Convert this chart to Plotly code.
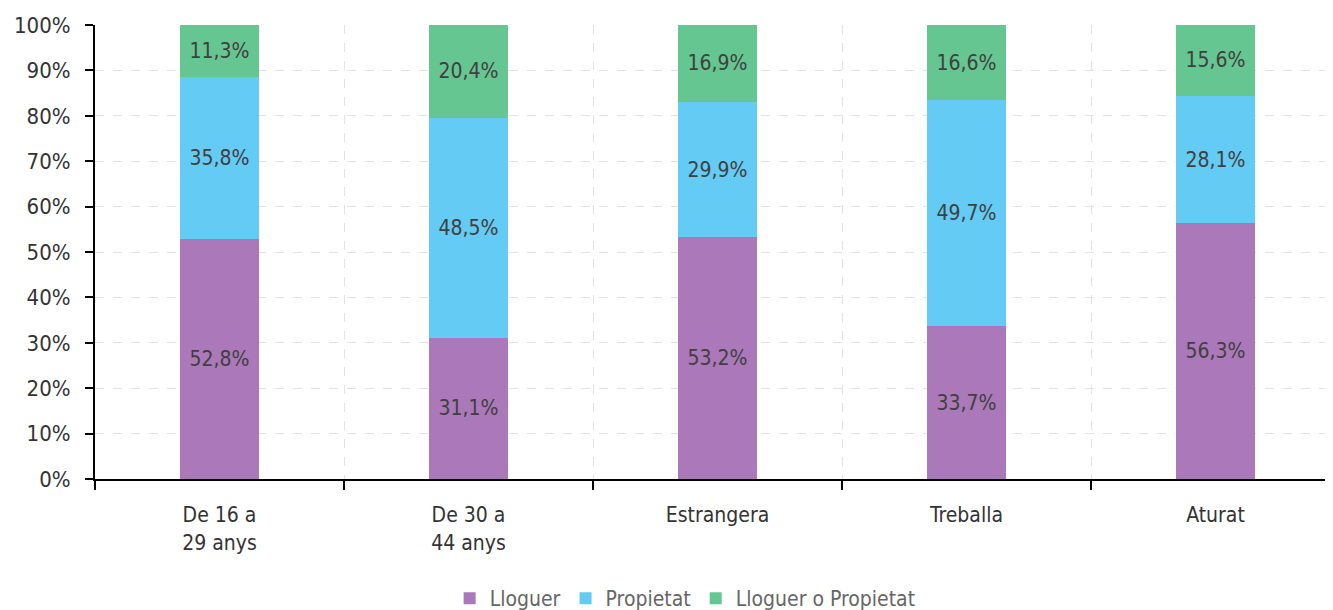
import plotly.graph_objects as go

categories = ["De 16 a<br>29 anys", "De 30 a<br>44 anys", "Estrangera", "Treballa", "Aturat"]
lloguer = [52.8, 31.1, 53.2, 33.7, 56.3]
propietat = [35.8, 48.5, 29.9, 49.7, 28.1]
lloguer_o_propietat = [11.3, 20.4, 16.9, 16.6, 15.6]

series = [
    ("Lloguer", lloguer, "#AB78B9"),
    ("Propietat", propietat, "#63CBF4"),
    ("Lloguer o Propietat", lloguer_o_propietat, "#66C691"),
]

FONT = "DejaVu Sans Condensed, Roboto, sans-serif"

fig = go.Figure()
for name, vals, color in series:
    fig.add_trace(go.Bar(
        name=name,
        x=categories,
        y=vals,
        marker_color=color,
        marker_line_width=0,
        texttemplate="%{y:.1f}%",
        textposition="inside",
        insidetextanchor="middle",
        textangle=0,
        textfont=dict(color="#404040", size=21, family=FONT),
    ))

# page has an 8px body margin, so margins are shifted to compensate
fig.update_layout(
    barmode="stack",
    bargap=0.685,
    separators=",.",
    width=1333,
    height=610,
    margin=dict(l=87, r=1, t=17, b=139),
    plot_bgcolor="white",
    paper_bgcolor="white",
    font=dict(family=FONT, size=21, color="#404040"),
    showlegend=True,
    legend=dict(
        orientation="h",
        x=0.474, xanchor="center",
        yref="container",
        y=0.032, yanchor="middle",
        font=dict(size=21, color="#666666"),
        traceorder="normal",
    ),
)

fig.update_xaxes(
    range=[-0.5, 4.5],
    automargin=False,
    tickson="boundaries",
    ticks="outside",
    ticklen=9,
    tickwidth=2,
    tickcolor="black",
    ticklabelstandoff=16,
    showline=True,
    linecolor="black",
    linewidth=2,
    showgrid=True,
    gridcolor="#E3E3E3",
    griddash="dash",
    gridwidth=1,
    tickfont=dict(size=21, color="#333333"),
)

fig.update_yaxes(
    range=[0, 100],
    automargin=False,
    dtick=10,
    ticksuffix="%",
    ticks="outside",
    ticklen=8,
    tickwidth=2,
    tickcolor="black",
    ticklabelstandoff=10,
    showline=True,
    linecolor="black",
    linewidth=2,
    showgrid=True,
    gridcolor="#E3E3E3",
    griddash="dash",
    gridwidth=1,
    zeroline=False,
    tickfont=dict(size=22, color="#333333"),
)

fig.write_html("out.html")
